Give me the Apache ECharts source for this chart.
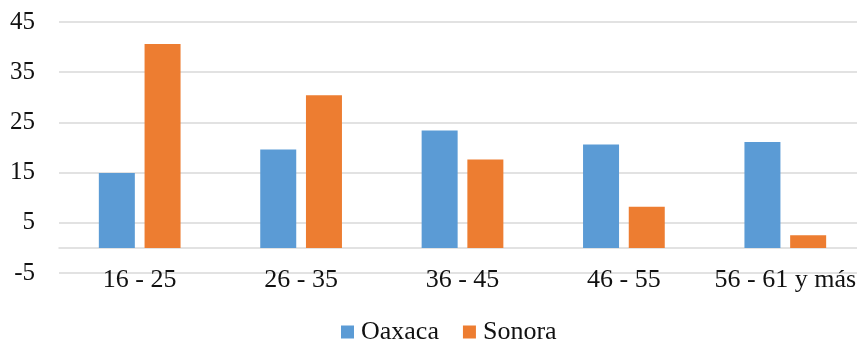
<!DOCTYPE html>
<html>
<head>
<meta charset="utf-8">
<script src="https://cdn.jsdelivr.net/npm/echarts@6/dist/echarts.min.js"></script>
<style>
  html, body { margin: 0; padding: 0; background: #fff; overflow: hidden; }
  /* canvas runs slightly past the window on the right and bottom */
  #chart { width: 866px; height: 350px; }
</style>
</head>
<body>
<div id="chart"></div>
<script>
// Age groups on the category axis
const categories = ['16 - 25', '26 - 35', '36 - 45', '46 - 55', '56 - 61 y más'];
// Percent of respondents per age group
const oaxaca = [14.9, 19.6, 23.4, 20.6, 21.1];
const sonora = [40.6, 30.4, 17.6, 8.2, 2.5];
const seriesNames = ['Oaxaca', 'Sonora'];
const yTicks = { min: -5, max: 45, step: 10 };

const FONT = '"Liberation Serif", "Times New Roman", serif';
const GRID = '#d9d9d9';
const INK = '#111';

const chart = echarts.init(document.getElementById('chart'), null, { renderer: 'canvas' });
chart.setOption({
  animation: false,
  textStyle: { fontFamily: FONT },
  grid: { left: 59, right: 0, top: 22, bottom: 77, containLabel: false },
  legend: {
    top: 319,
    left: 341,
    padding: 0,
    itemWidth: 13,
    itemHeight: 13,
    itemGap: 24,
    icon: 'rect',
    textStyle: { fontFamily: FONT, fontSize: 26, color: INK, padding: [0, 0, 0, 2] },
    data: seriesNames
  },
  xAxis: {
    type: 'category',
    data: categories,
    axisLine: { onZero: true, lineStyle: { color: GRID, width: 1.5 } },
    axisTick: { show: false },
    axisLabel: { fontFamily: FONT, fontSize: 26, color: INK, margin: -6, interval: 0 }
  },
  yAxis: {
    type: 'value',
    min: yTicks.min,
    max: yTicks.max,
    interval: yTicks.step,
    axisLine: { show: false },
    axisTick: { show: false },
    splitLine: { lineStyle: { color: GRID, width: 1.5 } },
    axisLabel: { fontFamily: FONT, fontSize: 25, color: INK, margin: 24 }
  },
  series: [
    {
      name: seriesNames[0], type: 'bar', data: oaxaca,
      barWidth: 36, barGap: '27%',
      itemStyle: { color: '#5B9BD5' }
    },
    {
      name: seriesNames[1], type: 'bar', data: sonora,
      barWidth: 36, barGap: '27%',
      itemStyle: { color: '#ED7D31' }
    }
  ]
});
</script>
</body>
</html>
